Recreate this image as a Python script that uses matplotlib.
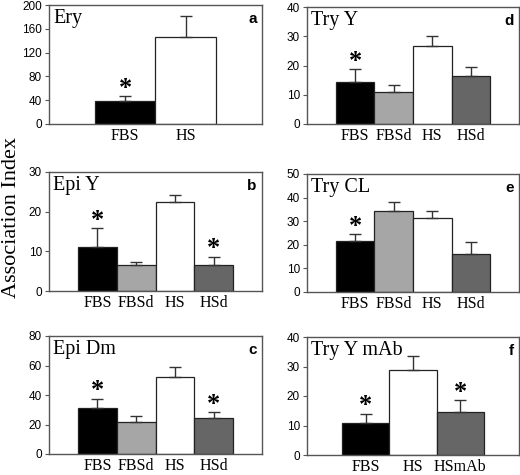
import matplotlib
matplotlib.use("Agg")
import matplotlib.pyplot as plt

W, H = 520, 475

# ---- data ----
cats_a = ["FBS", "HS"]
vals_a = [38, 146]
err_a = [9, 36]
star_a = [True, False]

cats_b = ["FBS", "FBSd", "HS", "HSd"]
vals_b = [11.2, 6.5, 22.5, 6.5]
err_b = [4.7, 0.8, 1.7, 2.1]
star_b = [True, False, False, True]

cats_c = ["FBS", "FBSd", "HS", "HSd"]
vals_c = [31, 21.5, 52.5, 24.5]
err_c = [6.5, 4.0, 6.5, 4.0]
star_c = [True, False, False, True]

cats_d = ["FBS", "FBSd", "HS", "HSd"]
vals_d = [14.5, 11.0, 26.5, 16.3]
err_d = [4.3, 2.2, 3.5, 3.2]
star_d = [True, False, False, False]

cats_e = ["FBS", "FBSd", "HS", "HSd"]
vals_e = [21.5, 34.5, 31.3, 16.0]
err_e = [3.0, 3.5, 3.2, 5.0]
star_e = [True, False, False, False]

cats_f = ["FBS", "HS", "HSmAb"]
vals_f = [11.0, 28.8, 14.5]
err_f = [3.0, 4.7, 4.0]
star_f = [True, False, True]

COL = {"FBS": "#000000", "FBSd": "#a6a6a6", "HS": "#ffffff", "HSd": "#666666", "HSmAb": "#666666"}

panels = [
    # name, letter, cats, vals, err, stars, ymax, ystep, (l, r, t, b) in px
    ("Ery", "a", cats_a, vals_a, err_a, star_a, 200, 40, (49, 262, 5, 124)),
    ("Epi Y", "b", cats_b, vals_b, err_b, star_b, 30, 10, (49, 262, 172, 291)),
    ("Epi Dm", "c", cats_c, vals_c, err_c, star_c, 80, 20, (49, 262, 336, 454)),
    ("Try Y", "d", cats_d, vals_d, err_d, star_d, 40, 10, (307, 519, 7, 124)),
    ("Try CL", "e", cats_e, vals_e, err_e, star_e, 50, 10, (307, 519, 174, 292)),
    ("Try Y mAb", "f", cats_f, vals_f, err_f, star_f, 40, 10, (307, 519, 337, 455)),
]

fig = plt.figure(figsize=(W / 100, H / 100), dpi=100)
spine_col = "#555555"

for name, letter, cats, vals, errs, stars, ymax, ystep, (l, r, t, b) in panels:
    ax = fig.add_axes([l / W, 1 - b / H, (r - l) / W, (b - t) / H])
    n = len(cats)
    x = list(range(n))
    ax.bar(x, vals, width=1.0, color=[COL[c] for c in cats],
           edgecolor="#222222", linewidth=0.9, zorder=2)
    ax.errorbar(x, vals, yerr=[[0] * n, errs], fmt="none", ecolor="#333333",
                elinewidth=1.0, capsize=4, capthick=1.0, zorder=3)
    for xi, v, e, s in zip(x, vals, errs, stars):
        if s:
            ax.annotate("*", xy=(xi, v + e), xytext=(0, 1), textcoords="offset points",
                        ha="center", va="baseline", fontsize=19,
                        family="Liberation Serif", fontweight="bold")
    ax.set_xlim(-1.25, n - 1 + 1.25)
    ax.set_ylim(0, ymax)
    ax.set_yticks(list(range(0, ymax + 1, ystep)))
    ax.set_xticks(x)
    ax.set_xticklabels(cats, family="Liberation Serif", fontsize=11.5)
    ax.tick_params(axis="x", length=0, pad=3)
    ax.tick_params(axis="y", length=3, width=0.8, color=spine_col, pad=2,
                   labelsize=8.5)
    for lab in ax.get_yticklabels():
        lab.set_family("Liberation Sans")
    for sp in ax.spines.values():
        sp.set_color(spine_col)
        sp.set_linewidth(1.0)
    ax.text(0.02, 0.97, name, transform=ax.transAxes, ha="left", va="top",
            family="Liberation Serif", fontsize=14.5)
    ax.text(0.975, 0.94, letter, transform=ax.transAxes, ha="right", va="top",
            family="Liberation Sans", fontweight="bold", fontsize=11)

fig.text(12 / W, 1 - 218 / H, "Association Index", rotation=90, ha="center", va="center",
         family="Liberation Serif", fontsize=16)

fig.savefig("out.png", dpi=100)
